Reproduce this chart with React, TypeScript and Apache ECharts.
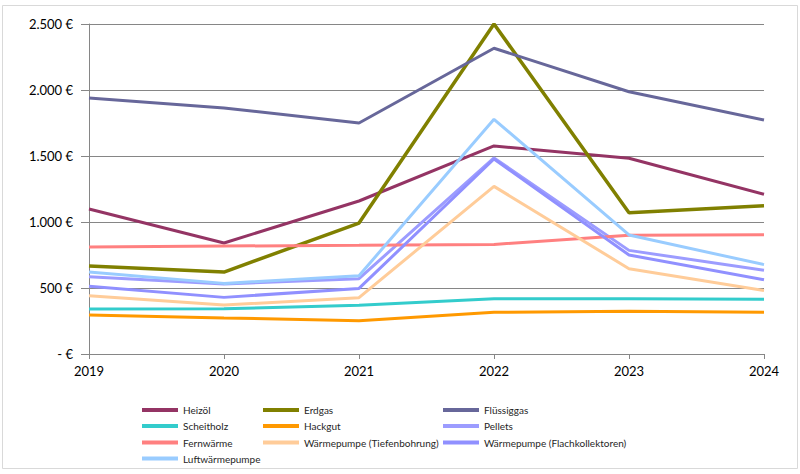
import React, { useEffect, useRef } from "react";
import * as echarts from "echarts";

const years = ["2019", "2020", "2021", "2022", "2023", "2024"];
const heizoel = [1098, 841, 1159, 1576, 1483, 1210];
const erdgas = [667, 621, 992, 2500, 1070, 1123];
const fluessiggas = [1939, 1864, 1750, 2316, 1987, 1773];
const scheitholz = [341, 343, 369, 419, 419, 414];
const hackgut = [295, 273, 252, 316, 323, 316];
const pellets = [586, 530, 571, 1485, 785, 634];
const fernwaerme = [811, 818, 823, 830, 899, 904];
const wpTiefe = [442, 371, 427, 1270, 646, 480];
const wpFlach = [513, 429, 497, 1477, 750, 563];
const luftwp = [621, 535, 593, 1778, 902, 677];

const seriesDefs = [
  { name: "Heizöl", data: heizoel, color: "#943464" },
  { name: "Erdgas", data: erdgas, color: "#808000" },
  { name: "Flüssiggas", data: fluessiggas, color: "#67679A" },
  { name: "Scheitholz", data: scheitholz, color: "#33CCCC" },
  { name: "Hackgut", data: hackgut, color: "#FF9900" },
  { name: "Pellets", data: pellets, color: "#9C9CFF" },
  { name: "Fernwärme", data: fernwaerme, color: "#FF8080" },
  { name: "Wärmepumpe (Tiefenbohrung)", data: wpTiefe, color: "#FFCC99" },
  { name: "Wärmepumpe (Flachkollektoren)", data: wpFlach, color: "#9090FF" },
  { name: "Luftwärmepumpe", data: luftwp, color: "#99CCFF" },
];

const legendCols = [142, 263, 443];
const legendRows = [405, 421, 437.5, 453.5];

const FONT = "Lato, 'Open Sans', sans-serif";

function fmt(v: number): string {
  if (v === 0) return "- €";
  const s = String(v);
  return s.replace(/\B(?=(\d{3})+(?!\d))/g, ".") + " €";
}

export default function App() {
  const ref = useRef<HTMLDivElement>(null);
  useEffect(() => {
    if (!ref.current) return;
    const chart = echarts.init(ref.current, null, { renderer: "svg" });
    const legends = seriesDefs.map((s, i) => ({
      data: [s.name],
      left: legendCols[i % 3],
      top: legendRows[Math.floor(i / 3)],
      icon: "rect",
      itemWidth: 36,
      itemHeight: 4,
      itemGap: 0,
      padding: 0,
      selectedMode: false,
      textStyle: { fontFamily: FONT, fontSize: 10, color: "#262626" },
    }));
    chart.setOption({
      animation: false,
      backgroundColor: "#ffffff",
      graphic: [
        {
          type: "rect",
          shape: { x: 2.5, y: 5.5, width: 795, height: 463 },
          style: { fill: "none", stroke: "#D9D9D9", lineWidth: 1 },
          silent: true,
        },
      ],
      grid: { left: 89, right: 36, top: 24, bottom: 120 },
      legend: legends,
      xAxis: {
        type: "category",
        data: years,
        boundaryGap: false,
        axisLine: { lineStyle: { color: "#868686", width: 1 } },
        axisTick: { show: true, length: 5, lineStyle: { color: "#868686" } },
        axisLabel: { fontFamily: FONT, fontSize: 13, color: "#000", margin: 10 },
        splitLine: { show: false },
      },
      yAxis: {
        type: "value",
        min: 0,
        max: 2500,
        interval: 500,
        axisLine: { show: true, lineStyle: { color: "#868686", width: 1 } },
        axisTick: { show: true, length: 8, lineStyle: { color: "#868686" } },
        axisLabel: { fontFamily: FONT, fontSize: 13, color: "#000", margin: 16, formatter: fmt },
        splitLine: { show: true, lineStyle: { color: "#868686", width: 1 } },
      },
      series: seriesDefs.map((s) => ({
        name: s.name,
        type: "line",
        data: s.data,
        showSymbol: false,
        symbol: "none",
        color: s.color,
        lineStyle: { color: s.color, width: s.name === "Erdgas" ? 3.5 : 3 },
        clip: false,
      })),
    });
    return () => chart.dispose();
  }, []);
  return (
    <div
      ref={ref}
      style={{ position: "absolute", left: 0, top: 0, width: 800, height: 474 }}
    />
  );
}
